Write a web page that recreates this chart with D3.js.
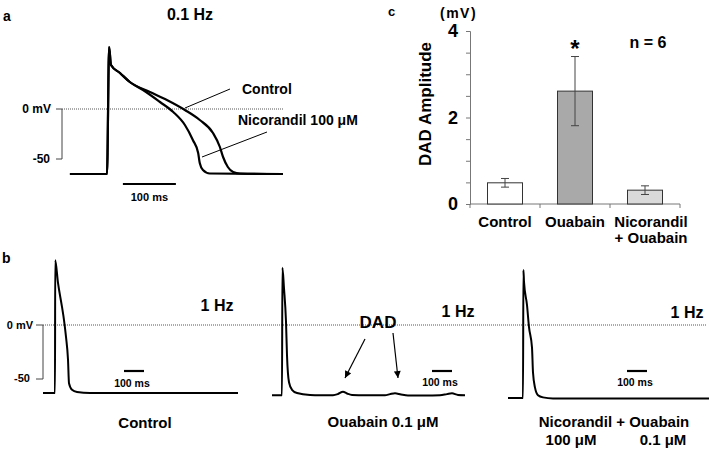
<!DOCTYPE html>
<html>
<head>
<meta charset="utf-8">
<script src="https://cdn.jsdelivr.net/npm/d3@7"></script>
<style>
  body { margin: 0; background: #fff; }
  svg { display: block; font-family: "Liberation Sans", Arial, Helvetica, sans-serif; font-weight: bold; }
</style>
</head>
<body>
<svg id="chart" width="709" height="451"></svg>
<script>
// ---------- DATA ----------
// Panel a: action potentials at 0.1 Hz, [time ms, membrane potential mV]
const apControlA = [[-70,-65],[0,-65],[4,62],[7.5,44],[24.5,36],[43,27],[81,17],[113,9],[147,-1],[175,-11],[200,-24],[213,-38],[219,-48],[228,-58],[238,-63],[251,-64.5],[332,-65]];
const apNicorandilA = [[-70,-65],[0,-65],[4,62],[7.5,44],[24.5,36],[43,27],[68,19],[100,7],[125,-3],[147,-16],[162,-31],[172,-44],[175,-54],[181,-61],[194,-64.5],[332,-65]];
// Panel b: 1 Hz recordings, [time ms, mV]
const apControlB = [[-60,-63],[0,-63],[1,60],[15,39],[35,16.7],[45,4.6],[55,-11],[65,-32],[70,-54],[85,-60],[110,-62],[175,-63],[915,-63]];
const apOuabainB = [[-50,-65],[0,-65],[2,53],[10,34],[20,3],[25,-28],[35,-53],[50,-60],[75,-63],[140,-64.8],[190,-65],[255,-65],[280,-63.9],[305,-61.8],[325,-63.4],[350,-64.8],[415,-65],[515,-65],[540,-64],[565,-63.2],[595,-64.3],[630,-65.2],[715,-65.2],[790,-65],[825,-64],[850,-63.3],[880,-64.8],[915,-65]];
const apNicOuaB = [[-75,-67.5],[0,-67.5],[2,51],[5,40],[20,18.5],[30,-2],[45,-21],[50,-44],[60,-58],[75,-65],[100,-67],[150,-68],[930,-68]];
// Panel c: DAD amplitude (mV)
const categories = ["Control", "Ouabain", "Nicorandil + Ouabain"];
const categoryLabels = [["Control"], ["Ouabain"], ["Nicorandil", "+ Ouabain"]];
const dadMean = [0.49, 2.61, 0.32];
const dadErr = [0.10, 0.80, 0.10];
const barFills = ["#ffffff", "#a9a9a9", "#dadada"];
const yTicksC = [0, 0.5, 1, 1.5, 2, 2.5, 3, 3.5, 4];
const yLabelsC = [0, 2, 4];

// ---------- DRAW ----------
const svg = d3.select("#chart");
const line = (xs, ys) => d3.line().x(d => xs(d[0])).y(d => ys(d[1])).curve(d3.curveMonotoneX);

function text(x, y, s, size, anchor = "start") {
  return svg.append("text").attr("x", x).attr("y", y).attr("font-size", size)
    .attr("text-anchor", anchor).text(s);
}
function seg(x1, y1, x2, y2, color = "#000", w = 1) {
  return svg.append("line").attr("x1", x1).attr("y1", y1).attr("x2", x2).attr("y2", y2)
    .attr("stroke", color).attr("stroke-width", w);
}

// ---- Panel a ----
const xA = d3.scaleLinear().domain([0, 100]).range([107, 160]);
const yA = d3.scaleLinear().domain([-50, 0]).range([159, 109]);
text(3, 21, "a", 14);
text(190, 20, "0.1 Hz", 16, "middle");
svg.append("line").attr("x1", 62).attr("x2", 283).attr("y1", yA(0)).attr("y2", yA(0))
  .attr("stroke", "#555").attr("stroke-width", 1).attr("stroke-dasharray", "1,1");
seg(62, yA(0), 62, yA(-50), "#444");
seg(56, yA(0), 62, yA(0), "#444");
seg(56, yA(-50), 62, yA(-50), "#444");
text(51, yA(0) + 4, "0 mV", 12, "end");
text(50, yA(-50) + 4, "-50", 12, "end");
[apControlA, apNicorandilA].forEach(d => {
  svg.append("path").datum(d).attr("d", line(xA, yA)).attr("fill", "none")
    .attr("stroke", "#000").attr("stroke-width", 2.2).attr("stroke-linejoin", "round");
});
seg(xA(30), 184, xA(130), 184, "#000", 2.2);
text((xA(30) + xA(130)) / 2, 201, "100 ms", 11, "middle");
seg(185, 108, 230, 89);
text(242, 94, "Control", 14);
seg(202, 157, 267, 132);
text(238, 125, "Nicorandil 100 \u03BCM", 14);

// ---- Panel b ----
const yB = d3.scaleLinear().domain([-50, 0]).range([379, 325]);
const xB1 = d3.scaleLinear().domain([0, 100]).range([55, 75]);
const xB2 = d3.scaleLinear().domain([0, 100]).range([282, 302]);
const xB3 = d3.scaleLinear().domain([0, 100]).range([523, 543]);
text(2, 263, "b", 14);
svg.append("line").attr("x1", 43).attr("x2", 706).attr("y1", yB(0)).attr("y2", yB(0))
  .attr("stroke", "#555").attr("stroke-width", 1).attr("stroke-dasharray", "1,1");
seg(43, yB(0), 43, yB(-50), "#444");
seg(36, yB(0), 43, yB(0), "#444");
seg(36, yB(-50), 43, yB(-50), "#444");
text(33, yB(0) + 4, "0 mV", 11, "end");
text(30, yB(-50) + 3, "-50", 11, "end");
[[apControlB, xB1], [apOuabainB, xB2], [apNicOuaB, xB3]].forEach(([d, xs]) => {
  svg.append("path").datum(d).attr("d", line(xs, yB)).attr("fill", "none")
    .attr("stroke", "#000").attr("stroke-width", 2).attr("stroke-linejoin", "round");
});
// scale bars & labels
[[xB1, 345, 387, 311, 217], [xB2, 750, 386, 317, 458], [xB3, 520, 386, 318, 687]].forEach(([xs, t0, ty, hzY, hzX]) => {
  seg(xs(t0), 371, xs(t0 + 100), 371, "#000", 2.2);
  text((xs(t0) + xs(t0 + 100)) / 2 - 2, ty, "100 ms", 10.5, "middle");
  text(hzX, hzY, "1 Hz", 16, "middle");
});
text(145, 428, "Control", 15, "middle");
text(383, 427, "Ouabain 0.1 \u03BCM", 15, "middle");
text(614, 427, "Nicorandil + Ouabain", 15, "middle");
text(571, 445, "100 \u03BCM", 15, "middle");
text(663, 445, "0.1 \u03BCM", 15, "middle");
// DAD label and arrows
svg.append("defs").append("marker").attr("id", "arr").attr("viewBox", "0 0 10 10")
  .attr("refX", 10).attr("refY", 5).attr("markerWidth", 8).attr("markerHeight", 7)
  .attr("orient", "auto").attr("markerUnits", "userSpaceOnUse")
  .append("path").attr("d", "M0,0 L10,5 L0,10 z").attr("fill", "#000");
text(378, 328, "DAD", 17, "middle");
seg(365, 339, 345, 378, "#000", 1.2).attr("marker-end", "url(#arr)");
seg(393, 333, 398, 378, "#000", 1.2).attr("marker-end", "url(#arr)");

// ---- Panel c ----
const xC = d3.scaleBand().domain(categories).range([470, 680]).paddingInner(0.5).paddingOuter(0.25);
const yC = d3.scaleLinear().domain([0, 4]).range([204, 31]);
text(388, 16, "c", 13);
text(440, 18, "(mV)", 14).attr("letter-spacing", "1.5");
const yAxis = svg.append("g").attr("transform", "translate(470,0)")
  .call(d3.axisLeft(yC).tickValues(yTicksC).tickSize(4).tickPadding(8)
    .tickFormat(d => yLabelsC.includes(d) ? d : ""));
yAxis.selectAll("path, line").attr("stroke", "#777");
yAxis.selectAll("text").attr("font-size", 18).attr("font-weight", "bold")
  .attr("font-family", "Liberation Sans, Arial, sans-serif").attr("fill", "#000");
// x axis line & boundary ticks
seg(470, yC(0), 680, yC(0), "#777");
const step = xC.step();
categories.forEach((c, i) => {
  const bx = xC(c) - (step - xC.bandwidth()) / 2;
  seg(bx, yC(0), bx, yC(0) + 4, "#777");
  if (i === categories.length - 1) seg(bx + step, yC(0), bx + step, yC(0) + 4, "#777");
});
svg.selectAll("rect.bar").data(categories).join("rect").attr("class", "bar")
  .attr("x", c => xC(c)).attr("width", xC.bandwidth())
  .attr("y", (c, i) => yC(dadMean[i])).attr("height", (c, i) => yC(0) - yC(dadMean[i]))
  .attr("fill", (c, i) => barFills[i]).attr("stroke", "#333").attr("stroke-width", 1);
categories.forEach((c, i) => {
  const cx = xC(c) + xC.bandwidth() / 2;
  const top = yC(dadMean[i] + dadErr[i]), bot = yC(dadMean[i] - dadErr[i]);
  seg(cx, top, cx, bot, "#444");
  seg(cx - 4, top, cx + 4, top, "#444");
  seg(cx - 4, bot, cx + 4, bot, "#444");
  const lx = categoryLabels[i].length > 1 ? cx + 6 : cx;
  categoryLabels[i].forEach((s, k) => text(lx, 227 + k * 16, s, 15, "middle"));
});
svg.append("text").attr("transform", `translate(431,104) rotate(-90)`)
  .attr("text-anchor", "middle").attr("font-size", 17).text("DAD Amplitude");
text(xC("Ouabain") + xC.bandwidth() / 2, 57, "*", 24, "middle");
text(648, 48, "n = 6", 16, "middle");
</script>
</body>
</html>
